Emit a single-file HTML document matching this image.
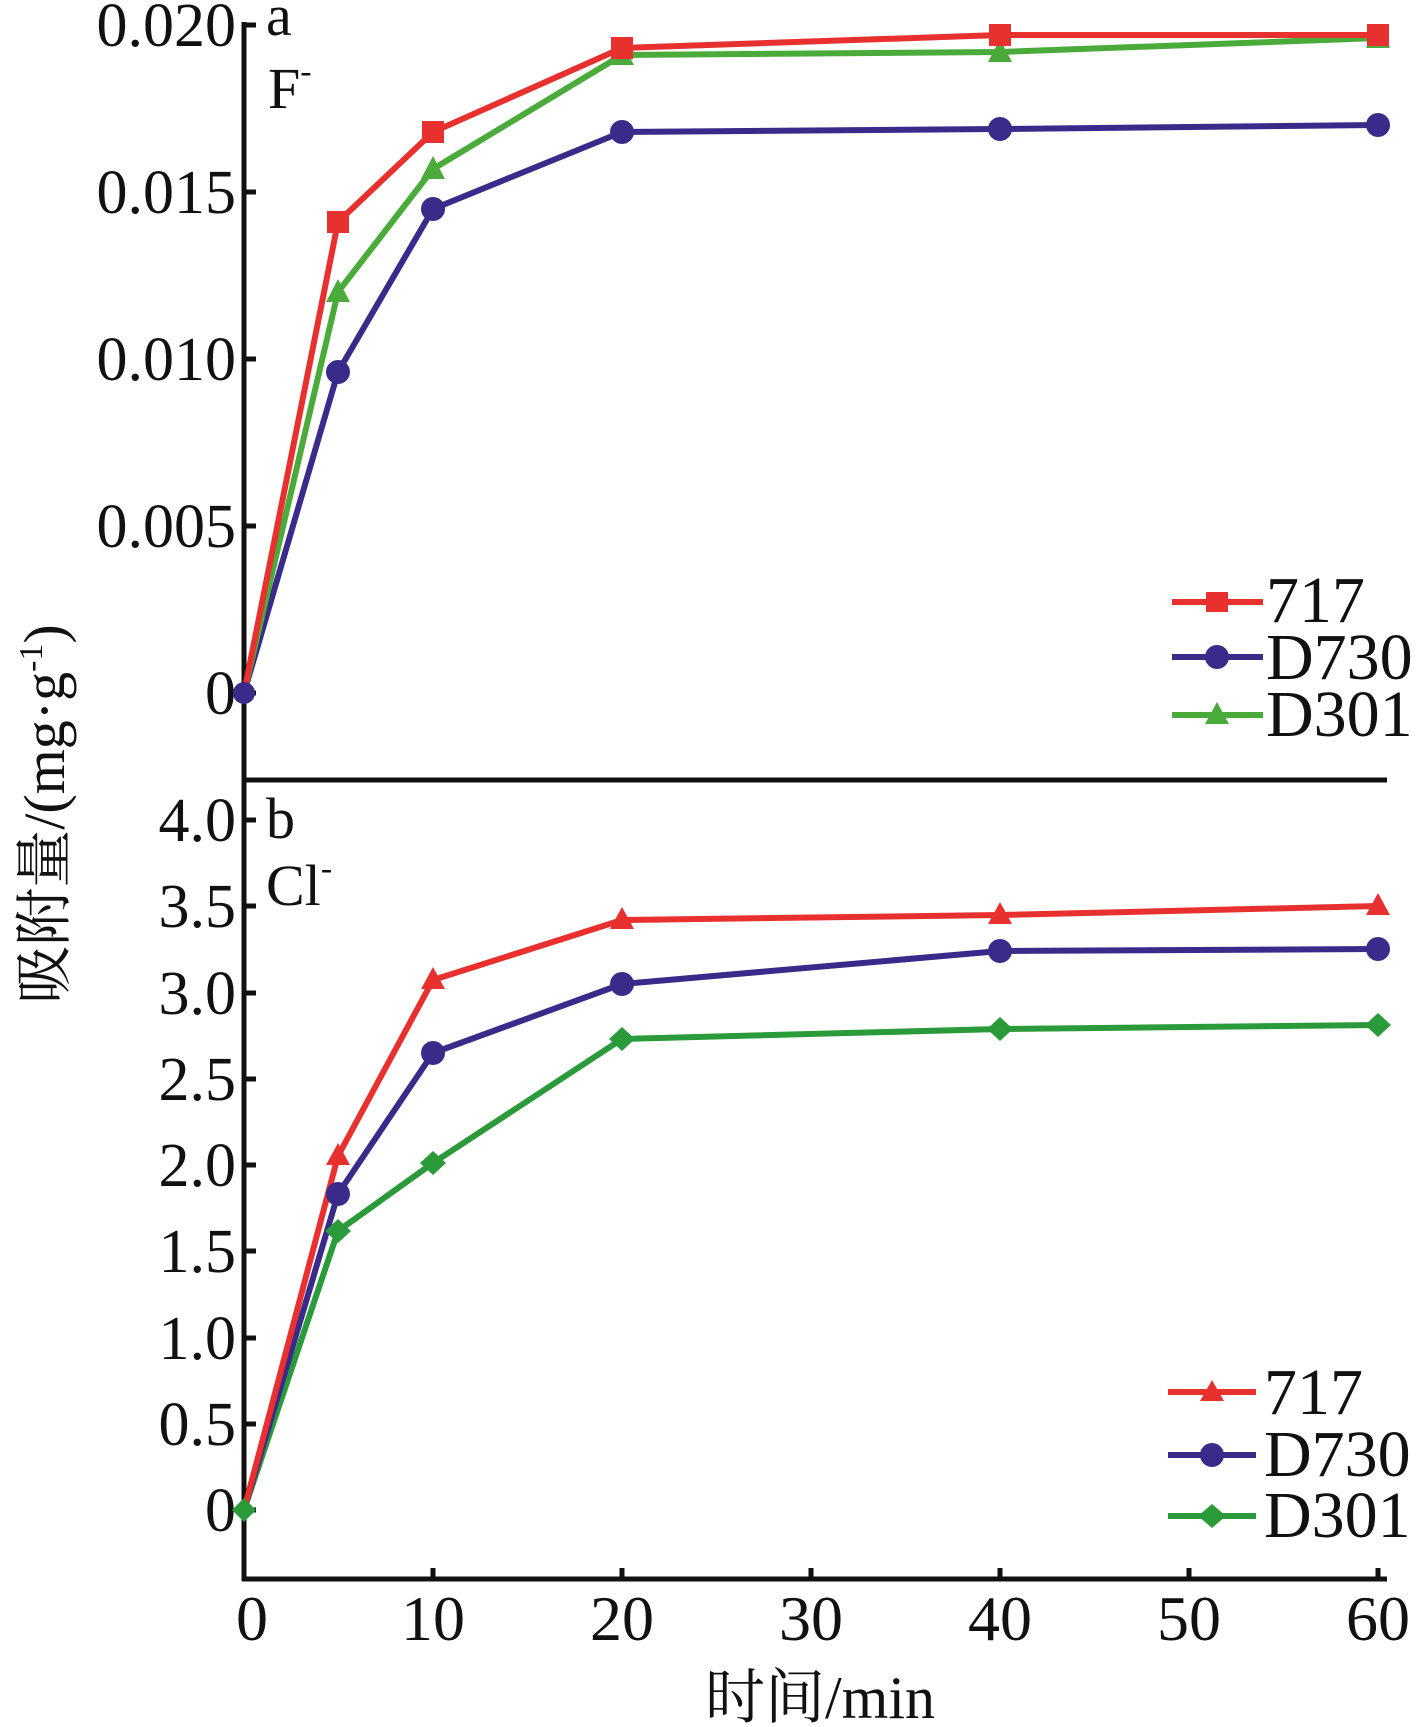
<!DOCTYPE html>
<html><head><meta charset="utf-8"><style>body{margin:0;background:#fff}svg{display:block}svg text{font-family:"Liberation Serif","Noto Serif CJK SC",serif}</style></head><body>
<svg width="1417" height="1727" xmlns="http://www.w3.org/2000/svg" fill="#111">
<line x1="244" y1="22" x2="244" y2="1581" stroke="#111" stroke-width="5"/>
<line x1="242" y1="1579" x2="1387" y2="1579" stroke="#111" stroke-width="5"/>
<line x1="244" y1="780" x2="1387" y2="780" stroke="#111" stroke-width="5"/>
<g stroke="#111" stroke-width="5">
<line x1="244" y1="25" x2="256" y2="25"/><line x1="244" y1="192" x2="256" y2="192"/><line x1="244" y1="359" x2="256" y2="359"/><line x1="244" y1="526" x2="256" y2="526"/><line x1="244" y1="693" x2="256" y2="693"/>
<line x1="244" y1="820" x2="256" y2="820"/><line x1="244" y1="906" x2="256" y2="906"/><line x1="244" y1="993" x2="256" y2="993"/><line x1="244" y1="1079" x2="256" y2="1079"/><line x1="244" y1="1165" x2="256" y2="1165"/><line x1="244" y1="1251" x2="256" y2="1251"/><line x1="244" y1="1338" x2="256" y2="1338"/><line x1="244" y1="1424" x2="256" y2="1424"/><line x1="244" y1="1510" x2="256" y2="1510"/>
<line x1="433" y1="1579" x2="433" y2="1568"/><line x1="622" y1="1579" x2="622" y2="1568"/><line x1="811" y1="1579" x2="811" y2="1568"/><line x1="1000" y1="1579" x2="1000" y2="1568"/><line x1="1189" y1="1579" x2="1189" y2="1568"/><line x1="1378" y1="1579" x2="1378" y2="1568"/>
</g>
<g font-size="62" text-anchor="end">
<text x="236" y="46">0.020</text><text x="236" y="213">0.015</text><text x="236" y="380">0.010</text><text x="236" y="547">0.005</text><text x="236" y="714">0</text>
<text x="236" y="841">4.0</text><text x="236" y="927">3.5</text><text x="236" y="1014">3.0</text><text x="236" y="1100">2.5</text><text x="236" y="1186">2.0</text><text x="236" y="1272">1.5</text><text x="236" y="1359">1.0</text><text x="236" y="1445">0.5</text><text x="236" y="1531">0</text>
</g>
<g font-size="64" text-anchor="middle">
<text x="252" y="1640">0</text><text x="433" y="1640">10</text><text x="622" y="1640">20</text><text x="811" y="1640">30</text><text x="1000" y="1640">40</text><text x="1189" y="1640">50</text><text x="1378" y="1640">60</text>
</g>
<text x="820" y="1718" font-size="60" text-anchor="middle">时间/min</text>
<text transform="translate(64,814) rotate(-90)" font-size="58" text-anchor="middle">吸附量/(mg·g<tspan font-size="34" dy="-22">-1</tspan><tspan dy="22">)</tspan></text>
<text x="266" y="35" font-size="58">a</text>
<text x="268" y="108" font-size="58">F<tspan font-size="34" dy="-26">-</tspan></text>
<text x="266" y="838" font-size="58">b</text>
<text x="266" y="905" font-size="58">Cl<tspan font-size="34" dy="-26">-</tspan></text>
<g fill="none" stroke-width="6" stroke-linejoin="round">
<polyline stroke="#3a2a8a" points="244,693 338,372 433,209 622,132 1000,129 1378,125"/>
<polyline stroke="#4aaa3a" points="244,693 338,292 433,169 622,55 1000,52 1378,38"/>
<polyline stroke="#e8312f" points="244,693 338,222 433,132 622,48 1000,35 1378,35"/>
<polyline stroke="#2a9a3a" points="244,1510 338,1231 433,1163 622,1039 1000,1029 1378,1025"/>
<polyline stroke="#3a2a8a" points="244,1510 338,1194 433,1053 622,984 1000,951 1378,949"/>
<polyline stroke="#e8312f" points="244,1510 338,1156 433,980 622,920 1000,915 1378,906"/>
</g>
<g fill="#3a2a8a"><circle cx="244" cy="693" r="11"/><circle cx="338" cy="372" r="12"/><circle cx="433" cy="209" r="12"/><circle cx="622" cy="132" r="12"/><circle cx="1000" cy="129" r="12"/><circle cx="1378" cy="125" r="12"/></g>
<g fill="#4aaa3a"><polygon points="338,279 326,302 350,302"/><polygon points="433,156 421,179 445,179"/><polygon points="622,42 610,65 634,65"/><polygon points="1000,39 988,62 1012,62"/><polygon points="1378,25 1366,48 1390,48"/></g>
<g fill="#e8312f"><rect x="327" y="211" width="22" height="22"/><rect x="422" y="121" width="22" height="22"/><rect x="611" y="37" width="22" height="22"/><rect x="989" y="24" width="22" height="22"/><rect x="1367" y="24" width="22" height="22"/></g>
<g fill="#2a9a3a"><polygon points="244,1498 256,1510 244,1522 232,1510"/><polygon points="338,1219 351,1231 338,1243 325,1231"/><polygon points="433,1151 446,1163 433,1175 420,1163"/><polygon points="622,1027 635,1039 622,1051 609,1039"/><polygon points="1000,1017 1013,1029 1000,1041 987,1029"/><polygon points="1378,1013 1391,1025 1378,1037 1365,1025"/></g>
<g fill="#3a2a8a"><circle cx="338" cy="1194" r="12"/><circle cx="433" cy="1053" r="12"/><circle cx="622" cy="984" r="12"/><circle cx="1000" cy="951" r="12"/><circle cx="1378" cy="949" r="12"/></g>
<g fill="#e8312f"><polygon points="338,1143 326,1165 350,1165"/><polygon points="433,967 421,989 445,989"/><polygon points="622,907 610,929 634,929"/><polygon points="1000,902 988,924 1012,924"/><polygon points="1378,893 1366,915 1390,915"/></g>
<g stroke-width="6">
<line x1="1172" y1="602" x2="1263" y2="602" stroke="#e8312f"/><line x1="1172" y1="657" x2="1263" y2="657" stroke="#3a2a8a"/><line x1="1172" y1="715" x2="1263" y2="715" stroke="#4aaa3a"/>
<line x1="1168" y1="1392" x2="1256" y2="1392" stroke="#e8312f"/><line x1="1168" y1="1455" x2="1256" y2="1455" stroke="#3a2a8a"/><line x1="1168" y1="1516" x2="1256" y2="1516" stroke="#2a9a3a"/>
</g>
<rect x="1206" y="592" width="22" height="20" fill="#e8312f"/><circle cx="1217" cy="657" r="12" fill="#3a2a8a"/><polygon points="1217,702 1205,724 1229,724" fill="#4aaa3a"/>
<polygon points="1212,1380 1200,1401 1224,1401" fill="#e8312f"/><circle cx="1212" cy="1455" r="12" fill="#3a2a8a"/><polygon points="1212,1504 1226,1516 1212,1528 1198,1516" fill="#2a9a3a"/>
<g font-size="66"><text x="1266" y="622">717</text><text x="1266" y="679">D730</text><text x="1266" y="736">D301</text>
<text x="1264" y="1414">717</text><text x="1264" y="1476">D730</text><text x="1264" y="1537">D301</text></g>
</svg>
</body></html>
